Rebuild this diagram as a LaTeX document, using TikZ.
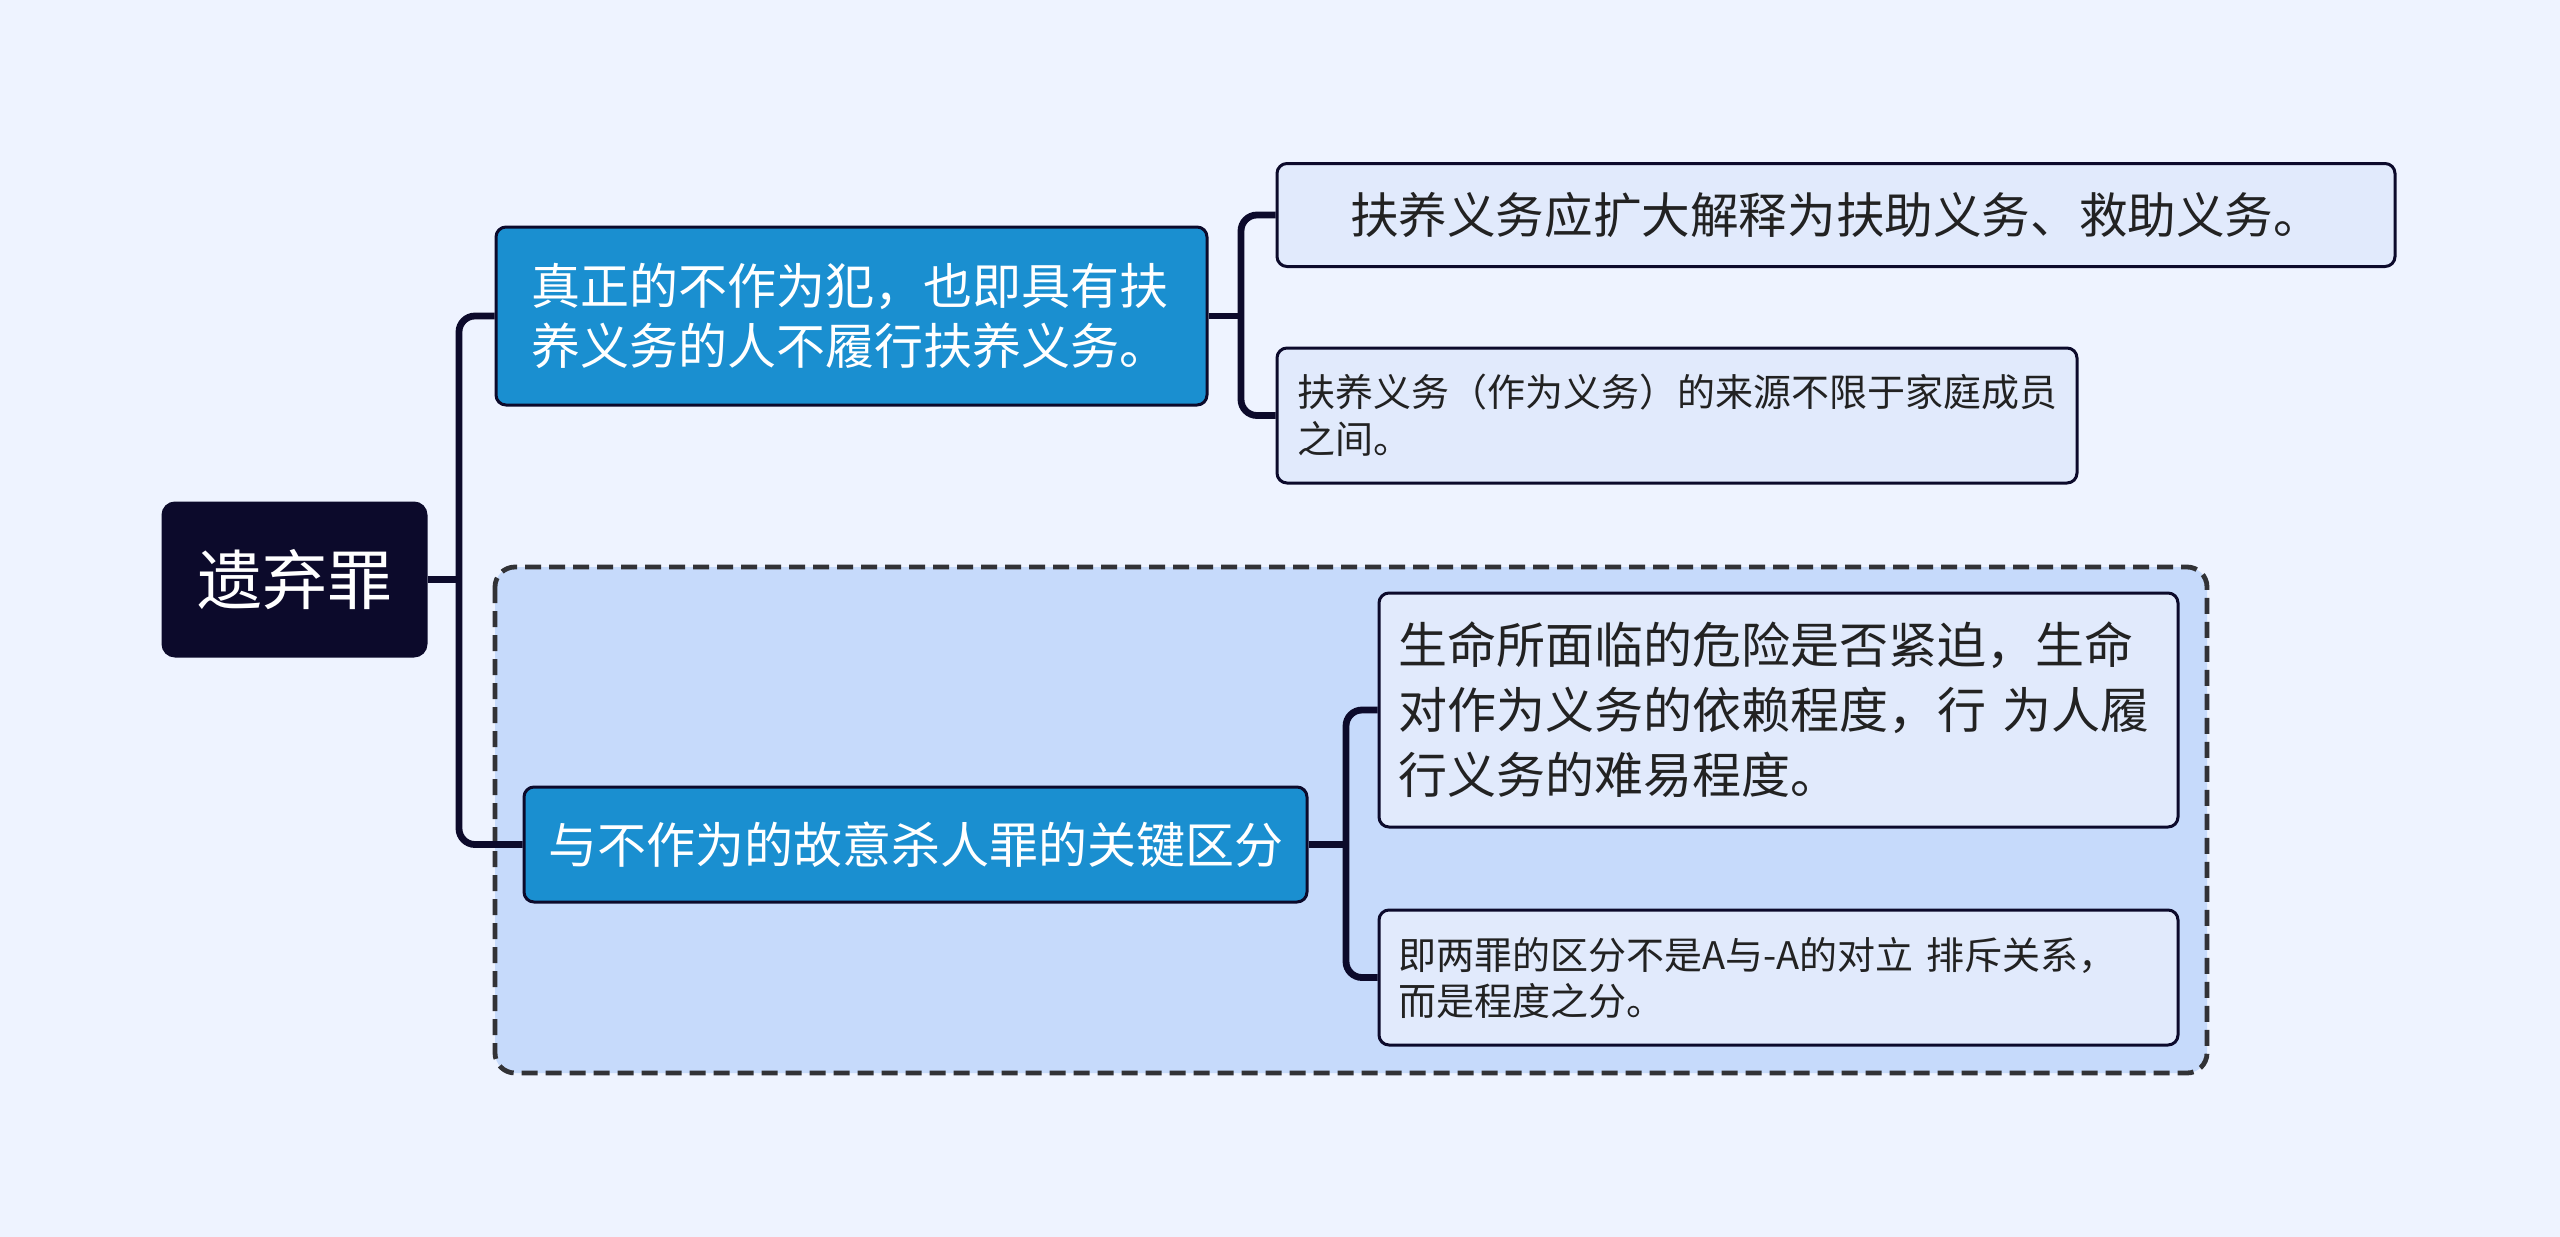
\documentclass[tikz,border=0pt]{standalone}
\usepackage{fontspec}
\newfontfamily\cjk{Noto Sans CJK SC}
\usetikzlibrary{backgrounds}
\definecolor{bgc}{RGB}{238,243,255}
\definecolor{navy}{RGB}{12,10,43}
\definecolor{bluefill}{RGB}{26,143,208}
\definecolor{leaffill}{RGB}{225,234,252}
\definecolor{groupfill}{RGB}{198,218,251}
\definecolor{dashc}{RGB}{50,50,54}
\definecolor{txt}{RGB}{34,34,34}
\tikzset{
  box/.style={draw=navy, line width=1.5pt, rounded corners=5pt, inner sep=0pt, anchor=center},
  rootbox/.style={box, fill=navy, text=white, rounded corners=6pt, font=\cjk\fontsize{32.5pt}{38pt}\selectfont},
  branchbox/.style={box, fill=bluefill, text=white},
  leafbox/.style={box, fill=leaffill, text=txt},
  conn/.style={draw=navy, line width=3.4pt},
  groupbox/.style={draw=dashc, fill=groupfill, line width=2.4pt, dash pattern=on 8pt off 4pt, rounded corners=10pt}
}
\begin{document}
\begin{tikzpicture}[x=0.5pt,y=-0.5pt]
\useasboundingbox (0,0) rectangle (2560,1237);

% nodes
\node[rootbox, minimum width=131.5pt, minimum height=76.5pt] (root) at (294.5,579.5) {遗弃罪};

\node[branchbox, minimum width=355.5pt, minimum height=89pt, text width=320pt, align=left,
  font=\cjk\fontsize{24.5pt}{30pt}\selectfont] (b1) at (851.5,316)
  {真正的不作为犯，也即具有扶\\养义务的人不履行扶养义务。};

\node[branchbox, minimum width=391.5pt, minimum height=57.5pt,
  font=\cjk\fontsize{24.5pt}{30pt}\selectfont] (b2) at (915.5,844.5)
  {与不作为的故意杀人罪的关键区分};

\node[leafbox, minimum width=559pt, minimum height=51.5pt,
  font=\cjk\fontsize{24.3pt}{30pt}\selectfont] (l1a) at (1836,215)
  {扶养义务应扩大解释为扶助义务、救助义务。};

\node[leafbox, minimum width=400pt, minimum height=67.5pt, text width=380pt, align=left,
  font=\cjk\fontsize{19pt}{23.5pt}\selectfont] (l1b) at (1677,415.5)
  {扶养义务（作为义务）的来源不限于家庭成员\\之间。};

\node[leafbox, minimum width=399.5pt, minimum height=117pt, text width=380pt, align=left,
  font=\cjk\fontsize{24.5pt}{32.5pt}\selectfont] (l2a) at (1778.5,710)
  {生命所面临的危险是否紧迫，生命\\对作为义务的依赖程度，行 为人履\\行义务的难易程度。};

\node[leafbox, minimum width=399.5pt, minimum height=67.5pt, text width=380pt, align=left,
  font=\cjk\fontsize{19pt}{23pt}\selectfont] (l2b) at (1778.5,977.5)
  {即两罪的区分不是A与-A的对立 排斥关系，\\而是程度之分。};

\coordinate (j0) at (459,579.5);
\coordinate (j1) at (1241,316);
\coordinate (j2) at (1346,844.5);

\begin{pgfonlayer}{background}
  \fill[bgc] (0,0) rectangle (2560,1237);
  \path[groupbox] (495,567) rectangle (2207,1073);
  \draw[conn] (root.east) -- (j0);
  \draw[conn, rounded corners=8pt] (b1.west) -| (j0) |- (b2.west);
  \draw[conn] (b1.east) -- (j1);
  \draw[conn, rounded corners=8pt] (l1a.west) -| (j1) |- (l1b.west);
  \draw[conn] (b2.east) -- (j2);
  \draw[conn, rounded corners=8pt] (l2a.west) -| (j2) |- (l2b.west);
\end{pgfonlayer}
\end{tikzpicture}
\end{document}
